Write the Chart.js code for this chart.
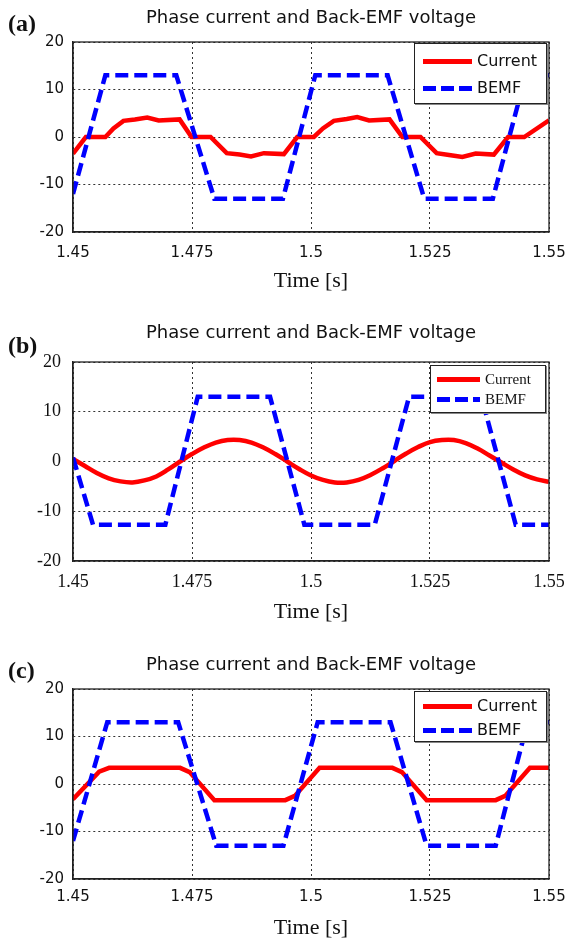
<!DOCTYPE html>
<html><head><meta charset="utf-8">
<script src="https://cdn.jsdelivr.net/npm/chart.js@4/dist/chart.umd.min.js"></script>
<style>
html,body{margin:0;padding:0;background:#fff;}
body{width:567px;height:941px;position:relative;overflow:hidden;}
canvas{position:absolute;left:0;}
.tag{position:absolute;left:8px;font:bold 24px "Liberation Serif";line-height:24px;color:#111;}
.leg{position:absolute;background:#fff;border:1px solid #222;box-shadow:1px 1px 0 #888;box-sizing:border-box;}
.leg .ln{position:absolute;height:5px;}
.leg .tx{position:absolute;line-height:20px;color:#111;white-space:nowrap;}
</style></head><body>
<script>
// ---------- shared labels ----------
const xTickValues = [1.45, 1.475, 1.5, 1.525, 1.55];
const xTickLabels = ['1.45', '1.475', '1.5', '1.525', '1.55'];
const yTickValues = [-20, -10, 0, 10, 20];
const seriesNames = ['Current', 'BEMF'];
const panelTitle = 'Phase current and Back-EMF voltage';
const xAxisTitle = 'Time [s]';
const panelTags = ['(a)', '(b)', '(c)'];

// ---------- panel (a) ----------
const aCurrentTime = [1.45, 1.4527, 1.4568, 1.4585, 1.4606, 1.463, 1.4656, 1.468, 1.4724, 1.4749, 1.4789, 1.4823, 1.485, 1.4874, 1.4901, 1.4943, 1.4971, 1.5006, 1.5025, 1.5048, 1.5075, 1.5097, 1.5122, 1.5165, 1.5192, 1.523, 1.5264, 1.529, 1.5318, 1.5346, 1.5384, 1.5414, 1.5448, 1.55];
const aCurrent     = [-3.5, 0, 0, 1.8, 3.4, 3.7, 4.1, 3.5, 3.7, 0, 0, -3.4, -3.7, -4.1, -3.4, -3.6, 0, 0, 1.8, 3.4, 3.8, 4.2, 3.5, 3.7, 0, 0, -3.4, -3.8, -4.2, -3.5, -3.7, 0, 0, 3.5];
const aBemfTime = [1.45, 1.4568, 1.4717, 1.4797, 1.4941, 1.5009, 1.5161, 1.5238, 1.5382, 1.5451, 1.55];
const aBemf     = [-12, 13, 13, -13, -13, 13, 13, -13, -13, 13, 13];

// ---------- panel (b) ----------
const bCurrentTime = [1.45, 1.4525, 1.455, 1.4575, 1.46, 1.4625, 1.465, 1.4675, 1.47, 1.4725, 1.475, 1.4775, 1.48, 1.4825, 1.485, 1.4875, 1.49, 1.4925, 1.495, 1.4975, 1.5, 1.5025, 1.505, 1.5075, 1.51, 1.5125, 1.515, 1.5175, 1.52, 1.5225, 1.525, 1.5275, 1.53, 1.5325, 1.535, 1.5375, 1.54, 1.5425, 1.545, 1.5475, 1.55];
const bCurrent     = [0.5, -0.9, -2.3, -3.4, -4.0, -4.2, -3.8, -3.0, -1.6, 0, 1.5, 2.8, 3.8, 4.3, 4.3, 3.8, 2.8, 1.5, 0, -1.5, -2.8, -3.7, -4.2, -4.2, -3.7, -2.7, -1.4, 0.1, 1.6, 2.9, 3.9, 4.3, 4.3, 3.7, 2.6, 1.2, -0.2, -1.6, -2.8, -3.6, -4.1];
const bBemfTime = [1.45, 1.4542, 1.4694, 1.4762, 1.4914, 1.4986, 1.5134, 1.5206, 1.5358, 1.543, 1.55];
const bBemf     = [0.8, -12.7, -12.7, 13, 13, -12.7, -12.7, 13, 13, -12.7, -12.7];

// ---------- panel (c) ----------
const cCurrentTime = [1.45, 1.4555, 1.4576, 1.4725, 1.4745, 1.4797, 1.4946, 1.4966, 1.5018, 1.5171, 1.5191, 1.5243, 1.5388, 1.5408, 1.546, 1.55];
const cCurrent     = [-3.2, 2.6, 3.4, 3.4, 2.5, -3.4, -3.4, -2.5, 3.4, 3.4, 2.5, -3.4, -3.4, -2.5, 3.4, 3.4];
const cBemfTime = [1.45, 1.4572, 1.4721, 1.4801, 1.4942, 1.5014, 1.5167, 1.5243, 1.5388, 1.5455, 1.55];
const cBemf     = [-12, 13, 13, -13, -13, 13, 13, -13, -13, 13, 13];

function pts(t, v) { return t.map((x, i) => ({ x: x, y: v[i] })); }

const framePlugin = {
  id: 'frame',
  afterDatasetsDraw(chart) {
    const { ctx, chartArea: a } = chart;
    ctx.save();
    ctx.strokeStyle = '#222';
    ctx.lineWidth = 1.3;
    ctx.strokeRect(a.left, a.top, a.right - a.left, a.bottom - a.top);
    ctx.restore();
  }
};

function makePanel(p) {
  const cv = document.createElement('canvas');
  cv.width = 567; cv.height = p.h;
  cv.style.top = p.top + 'px';
  document.body.appendChild(cv);
  new Chart(cv, {
    type: 'line',
    data: {
      datasets: [
        { label: seriesNames[1], data: pts(p.bt, p.bv), borderColor: '#0000ff', borderWidth: 4.5,
          borderDash: [13, 6], pointRadius: 0, order: 0, clip: 0, tension: 0, fill: false },
        { label: seriesNames[0], data: pts(p.ct, p.cv), borderColor: '#ff0000', borderWidth: 4.5,
          pointRadius: 0, order: 1, clip: 0, tension: p.tension, fill: false }
      ]
    },
    options: {
      responsive: false, animation: false, devicePixelRatio: 1,
      layout: { padding: { left: 0, right: 0, top: 0, bottom: 0 } },
      plugins: {
        legend: { display: false }, tooltip: { enabled: false },
        title: { display: true, text: panelTitle, fullSize: false, color: '#111',
          font: { family: 'DejaVu Sans', size: 18, lineHeight: 1, weight: 'normal' },
          padding: { top: p.tTop, bottom: p.tBot } }
      },
      scales: {
        x: {
          type: 'linear', min: 1.45, max: 1.55,
          afterBuildTicks(s) { s.ticks = xTickValues.map(v => ({ value: v })); },
          ticks: { callback: (v) => xTickLabels[xTickValues.indexOf(v)], font: p.tickFont, color: '#111',
            padding: p.xPad, maxRotation: 0, autoSkip: false },
          grid: { color: '#333', lineWidth: 1, drawTicks: false },
          border: { display: true, color: '#222', width: 1.3, dash: [2, 3] },
          title: { display: true, text: xAxisTitle, color: '#111',
            font: { family: 'Liberation Serif', size: 22, lineHeight: 1 }, padding: { top: 0, bottom: p.xtBot } },
          afterFit(s) { s.height = p.xH; s.paddingRight = 18; s.paddingLeft = 0; }
        },
        y: {
          type: 'linear', min: -20, max: 20,
          afterBuildTicks(s) { s.ticks = yTickValues.map(v => ({ value: v })); },
          ticks: { font: p.tickFont, color: '#111', padding: p.yPad },
          grid: { color: '#333', lineWidth: 1, drawTicks: false },
          border: { display: true, color: '#222', width: 1.3, dash: [2, 3] },
          afterFit(s) { s.width = 73; }
        }
      }
    },
    plugins: [framePlugin]
  });
}

function makeLegend(L) {
  const box = document.createElement('div');
  box.className = 'leg';
  Object.assign(box.style, { left: L.x + 'px', top: L.y + 'px', width: L.w + 'px', height: L.h + 'px' });
  seriesNames.forEach((name, i) => {
    const ln = document.createElement('div');
    ln.className = 'ln';
    ln.style.left = L.lx + 'px'; ln.style.width = L.lw + 'px'; ln.style.top = (L.rows[i] - 3.5) + 'px';
    ln.style.background = i === 0 ? '#ff0000'
      : 'repeating-linear-gradient(90deg,#0000ff 0 13px,transparent 13px 18px)';
    box.appendChild(ln);
    const tx = document.createElement('div');
    tx.className = 'tx';
    tx.textContent = name;
    tx.style.left = L.tx + 'px'; tx.style.top = (L.rows[i] - 11) + 'px'; tx.style.font = L.font;
    tx.style.lineHeight = '20px';
    box.appendChild(tx);
  });
  document.body.appendChild(box);
}

function makeTag(text, y) {
  const d = document.createElement('div');
  d.className = 'tag'; d.textContent = text; d.style.top = y + 'px';
  document.body.appendChild(d);
}

const sansTick = { family: 'DejaVu Sans', size: 15 };
const serifTick = { family: 'Liberation Serif', size: 18 };

makePanel({ top: 0, h: 300, ct: aCurrentTime, cv: aCurrent, bt: aBemfTime, bv: aBemf, tension: 0,
  tTop: 9, tBot: 15, xH: 68, xPad: 12, xtBot: 8, yPad: 9, tickFont: sansTick });
makePanel({ top: 300, h: 330, ct: bCurrentTime, cv: bCurrent, bt: bBemfTime, bv: bBemf, tension: 0.4,
  tTop: 24, tBot: 20, xH: 69, xPad: 10, xtBot: 7, yPad: 12, tickFont: serifTick });
makePanel({ top: 630, h: 311, ct: cCurrentTime, cv: cCurrent, bt: cBemfTime, bv: cBemf, tension: 0,
  tTop: 26, tBot: 15, xH: 62, xPad: 9, xtBot: 2, yPad: 9, tickFont: sansTick });

makeLegend({ x: 414, y: 43, w: 133, h: 61, rows: [18, 45], lx: 8, lw: 49, tx: 62, font: '16px "DejaVu Sans"' });
makeLegend({ x: 430, y: 365, w: 116, h: 48, rows: [14, 34], lx: 6, lw: 43, tx: 54, font: '15px "Liberation Serif"' });
makeLegend({ x: 414, y: 691, w: 133, h: 51, rows: [15, 39], lx: 8, lw: 49, tx: 62, font: '16px "DejaVu Sans"' });

makeTag(panelTags[0], 11);
makeTag(panelTags[1], 333);
makeTag(panelTags[2], 658);
</script>
</body></html>
